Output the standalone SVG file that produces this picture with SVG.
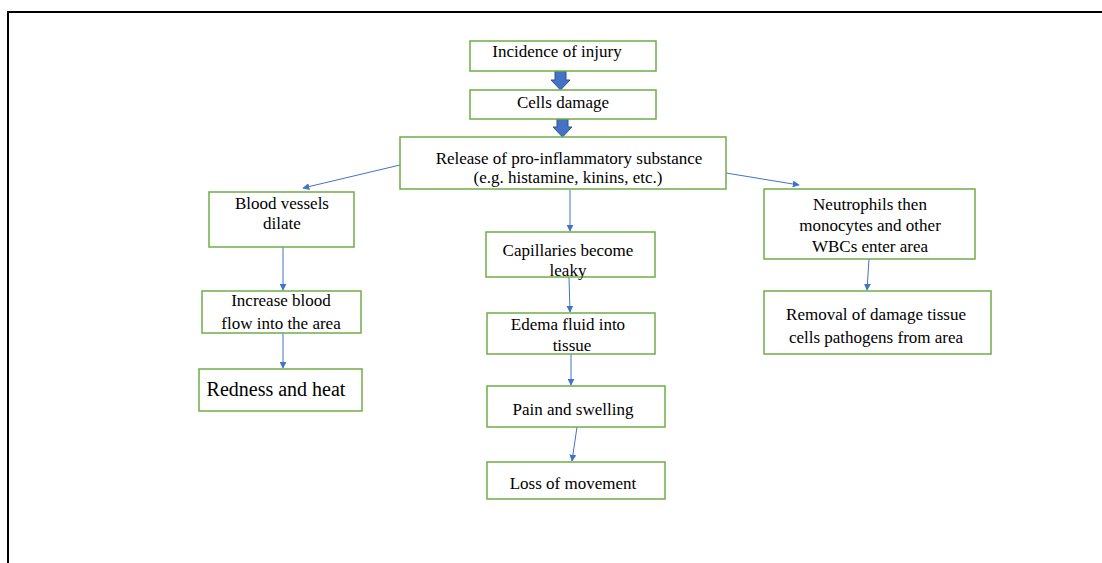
<svg xmlns="http://www.w3.org/2000/svg" width="1102" height="563" viewBox="0 0 1102 563">
<style>
.box{fill:#fff;stroke:#70AD47;stroke-width:1.5}
.t{font-family:"Liberation Serif","Times New Roman",Times,serif;font-size:17px;fill:#000;text-anchor:middle}
.c{stroke:#4472C4;stroke-width:1;fill:none;marker-end:url(#ah)}
.blk{fill:#4472C4;stroke:#2F528F;stroke-width:1}
</style>
<defs>
<marker id="ah" viewBox="0 0 10 10" refX="9" refY="5" markerWidth="7" markerHeight="7" orient="auto" markerUnits="userSpaceOnUse">
<path d="M0,0 L10,5 L0,10 z" fill="#4472C4"/>
</marker>
</defs>
<rect width="1102" height="563" fill="#fff"/>
<path d="M8,563 V12 H1102" fill="none" stroke="#000" stroke-width="2"/>
<g id="connectors">
<path class="blk" d="M555,71 H566 V80 H570 L560.5,90 L551,80 H555 Z"/>
<path class="blk" d="M557,119 H568 V127 H572 L562.5,137 L553,127 H557 Z"/>
<line class="c" x1="400" y1="165" x2="303" y2="188"/>
<line class="c" x1="726" y1="173" x2="799" y2="185"/>
<line class="c" x1="570" y1="190" x2="570" y2="231"/>
<line class="c" x1="283" y1="247" x2="283" y2="290"/>
<line class="c" x1="283" y1="333" x2="283" y2="368"/>
<line class="c" x1="569" y1="277" x2="570" y2="312"/>
<line class="c" x1="571" y1="354" x2="571" y2="385"/>
<line class="c" x1="577" y1="427" x2="572" y2="461"/>
<line class="c" x1="869" y1="259" x2="867" y2="290"/>
</g>
<g id="n1"><rect class="box" x="470" y="41" width="186" height="30"/><text class="t" x="557" y="57">Incidence of injury</text></g>
<g id="n2"><rect class="box" x="470" y="90" width="186" height="29"/><text class="t" x="563" y="108">Cells damage</text></g>
<g id="n3"><rect class="box" x="400" y="137" width="326" height="52"/><text class="t" x="569" y="164">Release of pro-inflammatory substance</text><text class="t" x="568" y="183">(e.g. histamine, kinins, etc.)</text></g>
<g id="n4"><rect class="box" x="209" y="192" width="145" height="55"/><text class="t" x="282" y="209">Blood vessels</text><text class="t" x="282" y="229">dilate</text></g>
<g id="n5"><rect class="box" x="202" y="291" width="159" height="42"/><text class="t" x="281" y="306">Increase blood</text><text class="t" x="281" y="329">flow into the area</text></g>
<g id="n6"><rect class="box" x="199" y="369" width="163" height="42"/><text class="t" x="276" y="396" style="font-size:20px">Redness and heat</text></g>
<g id="n7"><rect class="box" x="486" y="232" width="169" height="45"/><text class="t" x="568" y="256">Capillaries become</text><text class="t" x="568" y="276">leaky</text></g>
<g id="n8"><rect class="box" x="487" y="313" width="168" height="41"/><text class="t" x="568" y="330">Edema fluid into</text><text class="t" x="572" y="351">tissue</text></g>
<g id="n9"><rect class="box" x="487" y="386" width="178" height="41"/><text class="t" x="573" y="415">Pain and swelling</text></g>
<g id="n10"><rect class="box" x="487" y="462" width="178" height="37"/><text class="t" x="573" y="489">Loss of movement</text></g>
<g id="n11"><rect class="box" x="764" y="189" width="211" height="70"/><text class="t" x="870" y="210">Neutrophils then</text><text class="t" x="870" y="231">monocytes and other</text><text class="t" x="870" y="252">WBCs enter area</text></g>
<g id="n12"><rect class="box" x="764" y="291" width="227" height="63"/><text class="t" x="876" y="320">Removal of damage tissue</text><text class="t" x="876" y="343">cells pathogens from area</text></g>
</svg>
